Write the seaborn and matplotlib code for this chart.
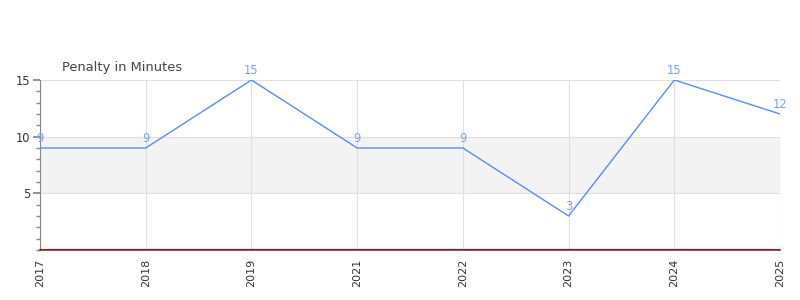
import matplotlib
matplotlib.use("Agg")
import matplotlib.pyplot as plt
from matplotlib.ticker import MultipleLocator
import seaborn as sns
import pandas as pd

years = ["2017", "2018", "2019", "2021", "2022", "2023", "2024", "2025"]
penalty = [9, 9, 15, 9, 9, 3, 15, 12]
title = "Penalty in Minutes"

sns.set_theme(style="white")
plt.rcParams['font.family'] = ['DejaVu Sans']

df = pd.DataFrame({"year": years, "penalty": penalty})

fig = plt.figure(figsize=(8, 3), dpi=100)
ax = fig.add_axes([0.05, 0.1667, 0.925, 0.5667])

ax.axhspan(5, 10, color="#f3f3f3", zorder=0, lw=0)
sns.lineplot(data=df, x="year", y="penalty", ax=ax, color="#5b8def", lw=1.0, sort=False, zorder=3)

for i, v in enumerate(penalty):
    ax.annotate(str(v), (i, v), xytext=(0, 2.5), textcoords="offset points",
                ha="center", va="bottom", fontsize=8.3, color="#7aa2ea", zorder=4)

ax.set_xlim(0, len(years) - 1)
ax.set_ylim(0, 15)
ax.set_yticks([5, 10, 15])
ax.yaxis.set_minor_locator(MultipleLocator(1))
ax.grid(True, which="major", color="#e0e0e0", lw=0.8, zorder=1)
ax.set_axisbelow(True)
ax.set_xlabel("")
ax.set_ylabel("")
ax.set_xticks(range(len(years)))
ax.set_xticklabels(years, rotation=90, fontsize=8, color="#333333")
ax.tick_params(axis="y", which="major", length=5, color="#888888", labelsize=8.3, labelcolor="#333333", left=True, pad=2)
ax.tick_params(axis="y", which="minor", length=3, color="#888888", left=True)
ax.tick_params(axis="x", length=0, pad=6)

for s in ["top", "right"]:
    ax.spines[s].set_visible(False)
ax.spines["left"].set_color("#888888")
ax.spines["left"].set_linewidth(0.8)
ax.spines["bottom"].set_color("#444444")
ax.spines["bottom"].set_linewidth(1.2)
ax.axhline(0.05, color="#cc0000", lw=0.8, zorder=5)

fig.text(62 / 800, 1 - 67 / 300, title, fontsize=9.4, color="#444444", va="center", ha="left")

fig.savefig("out.png", dpi=100)
